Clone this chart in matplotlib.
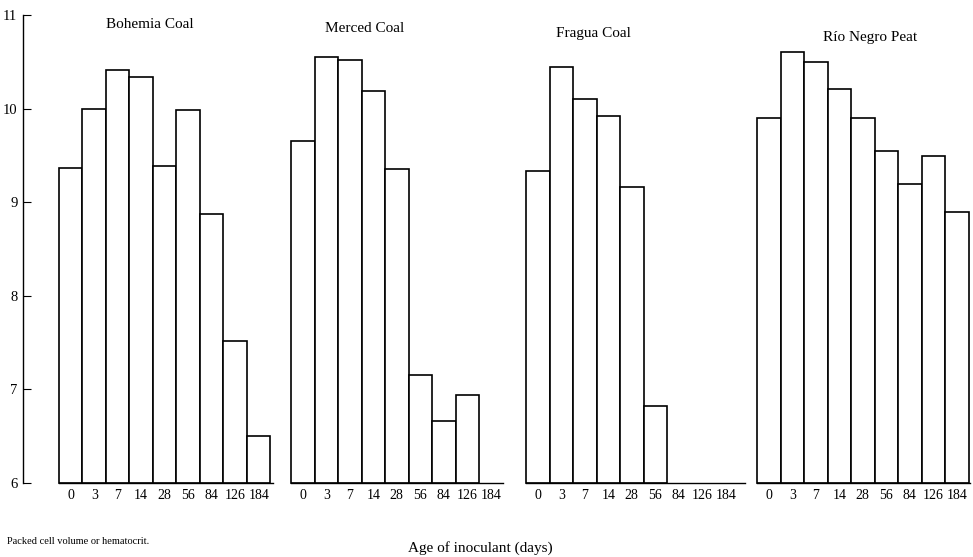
import numpy as np
import matplotlib
matplotlib.use("Agg")
import matplotlib.pyplot as plt

plt.rcParams['font.family'] = ['Liberation Serif', 'DejaVu Serif']

ages = ['0', '3', '7', '14', '28', '56', '84', '126', '184']
titles = ['Bohemia Coal', 'Merced Coal', 'Fragua Coal', 'Río Negro Peat']

bohemia = [9.37, 10.0, 10.41, 10.34, 9.39, 9.98, 8.87, 7.52, 6.5]
merced = [9.65, 10.55, 10.52, 10.19, 9.35, 7.15, 6.66, 6.94, None]
fragua = [9.33, 10.44, 10.10, 9.92, 9.16, 6.82, None, None, None]
rionegro = [9.90, 10.61, 10.50, 10.21, 9.90, 9.55, 9.19, 9.49, 8.89]

series = [bohemia, merced, fragua, rionegro]

W, H = 973, 557
fig = plt.figure(figsize=(W / 100, H / 100), dpi=100)

# pixel layout of each panel: (left px, xlim left, xlim right)
unit = 23.5
panels = [(23, -2.03, 8.6),
          (291, -0.5, 8.5),
          (526, -0.5, 8.8),
          (757, -0.5, 8.56)]
title_y = [25, 29, 33, 37]
title_x = [150, 365, 593, 870]

top_px, bot_px = 15, 483
for i, (left, x0, x1) in enumerate(panels):
    width = (x1 - x0) * unit
    ax = fig.add_axes([left / W, 1 - bot_px / H, width / W, (bot_px - top_px) / H])
    vals = series[i]
    pos = [k for k, v in enumerate(vals) if v is not None]
    hts = [vals[k] - 6 for k in pos]
    ax.bar(pos, hts, bottom=6, width=1.0, color='white', edgecolor='black',
           linewidth=1.2, clip_on=False)
    ax.set_xlim(x0, x1)
    ax.set_ylim(6, 11)
    ax.set_xticks(range(len(ages)))
    ax.set_xticklabels(ages, fontsize=10)
    ax.tick_params(axis='x', length=0, pad=4)
    for s in ['top', 'right']:
        ax.spines[s].set_visible(False)
    ax.spines['bottom'].set_linewidth(1.0)
    if i == 0:
        ax.spines['bottom'].set_bounds(-0.5, 8.6)
        ax.set_yticks([6, 7, 8, 9, 10, 11])
        ax.tick_params(axis='y', direction='in', length=6, labelsize=10.5, pad=4)
        ax.spines['left'].set_linewidth(1.0)
    else:
        ax.spines['left'].set_visible(False)
        ax.set_yticks([])
    fig.text(title_x[i] / W, 1 - title_y[i] / H, titles[i], ha='center',
             va='center', fontsize=11)

fig.text(7 / W, 1 - 541 / H, 'Packed cell volume or hematocrit.', fontsize=7.5,
         ha='left', va='center')
fig.text(480 / W, 1 - 548 / H, 'Age of inoculant (days)', fontsize=11,
         ha='center', va='center')

fig.savefig('out.png', dpi=100)
